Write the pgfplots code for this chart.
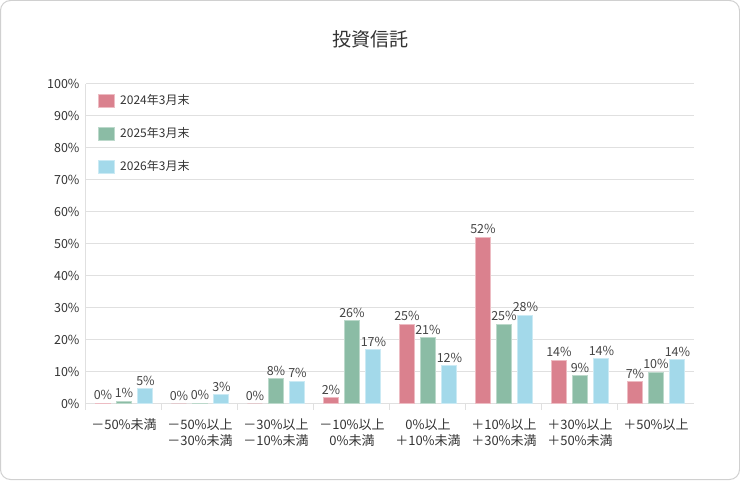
\documentclass[border=0pt]{standalone}
\usepackage{pgfplots}
\pgfplotsset{compat=1.18}
\usepackage{fontspec}
\setmainfont{Noto Sans CJK JP}
\definecolor{cR}{HTML}{DA818E}
\definecolor{cRb}{HTML}{EDBCC3}
\definecolor{cG}{HTML}{8BBCA5}
\definecolor{cGb}{HTML}{BCD9CB}
\definecolor{cB}{HTML}{A3D9EA}
\definecolor{cBb}{HTML}{CBEAF4}
\definecolor{gridc}{HTML}{E0E0E0}
\definecolor{framec}{HTML}{D0D0D0}
\definecolor{txt}{HTML}{333333}
\definecolor{lbl}{HTML}{444444}
\pgfplotsset{
  myleg/.style={legend image code/.code={\fill[##1] (0pt,-6.5pt) rectangle (16pt,6.5pt);}}
}
\begin{document}
\begin{tikzpicture}[x=1pt,y=1pt]
\useasboundingbox (0,0) rectangle (740,480);
\draw[color=framec, line width=1pt, rounded corners=10pt] (0.5,0.5) rectangle (739.5,479.5);
\node[font=\fontsize{19}{22}\selectfont, text=txt] at (370,441) {投資信託};
\begin{axis}[
  at={(86pt,76pt)}, anchor=south west,
  scale only axis, width=608pt, height=320pt,
  xmin=-0.5, xmax=7.5, ymin=0, ymax=100,
  axis x line=bottom, axis y line=left,
  axis line style={draw=gridc, line width=1pt, -},
  ybar,
  xtick={0,1,2,3,4,5,6,7},
  xticklabels={{－50\%未満},{－50\%以上\\－30\%未満},{－30\%以上\\－10\%未満},{－10\%以上\\0\%未満},{0\%以上\\＋10\%未満},{＋10\%以上\\＋30\%未満},{＋30\%以上\\＋50\%未満},{＋50\%以上}},
  minor xtick={-0.5,0.5,1.5,2.5,3.5,4.5,5.5,6.5},
  ytick={0,10,...,100},
  yticklabel={\pgfmathprintnumber{\tick}\%},
  /pgf/number format/assume math mode=true,
  major tick length=0pt, minor tick length=6pt,
  tick align=outside,
  minor tick style={draw=gridc, line width=1pt},
  ymajorgrids, grid style={draw=gridc, line width=1pt},
  xticklabel style={align=center, font=\fontsize{13}{16}\selectfont, text=txt, yshift=-11pt},
  yticklabel style={font=\fontsize{12.5}{14}\selectfont, text=txt, xshift=-3pt},
  point meta=explicit,
  nodes near coords={\pgfmathprintnumber[fixed,precision=0]{\pgfplotspointmeta}\%},
  nodes near coords style={font=\fontsize{12.5}{14}\selectfont, text=lbl, inner sep=3pt, anchor=south},
  legend style={draw=none, fill=none, at={(rel axis cs:0,1)}, anchor=north west, xshift=12pt, yshift=-10pt,
    inner sep=0pt, row sep=19pt, column sep=0pt,
    nodes={inner sep=0pt, text height=8.5pt, text depth=2pt, font=\fontsize{12}{14}\selectfont, text=txt}},
  legend cell align=left,
]
\addplot[myleg, fill=cR, draw=cRb, line width=1pt, bar width=15pt, bar shift=-21pt]
  coordinates {(0,0.3)[0] (1,0)[0] (2,0)[0] (3,1.9)[2] (4,24.9)[25] (5,52.0)[52] (6,13.7)[14] (7,6.9)[7]};
\addlegendentry{\hspace{5pt}2024年3月末}
\addplot[myleg, fill=cG, draw=cGb, line width=1pt, bar width=15pt, bar shift=0pt]
  coordinates {(0,0.8)[1] (1,0.3)[0] (2,7.9)[8] (3,26.0)[26] (4,20.7)[21] (5,24.8)[25] (6,8.8)[9] (7,9.8)[10]};
\addlegendentry{\hspace{5pt}2025年3月末}
\addplot[myleg, fill=cB, draw=cBb, line width=1pt, bar width=15pt, bar shift=21.5pt]
  coordinates {(0,4.7)[5] (1,2.9)[3] (2,7.0)[7] (3,16.9)[17] (4,11.9)[12] (5,27.8)[28] (6,14.1)[14] (7,13.8)[14]};
\addlegendentry{\hspace{5pt}2026年3月末}
\end{axis}
\end{tikzpicture}
\end{document}
